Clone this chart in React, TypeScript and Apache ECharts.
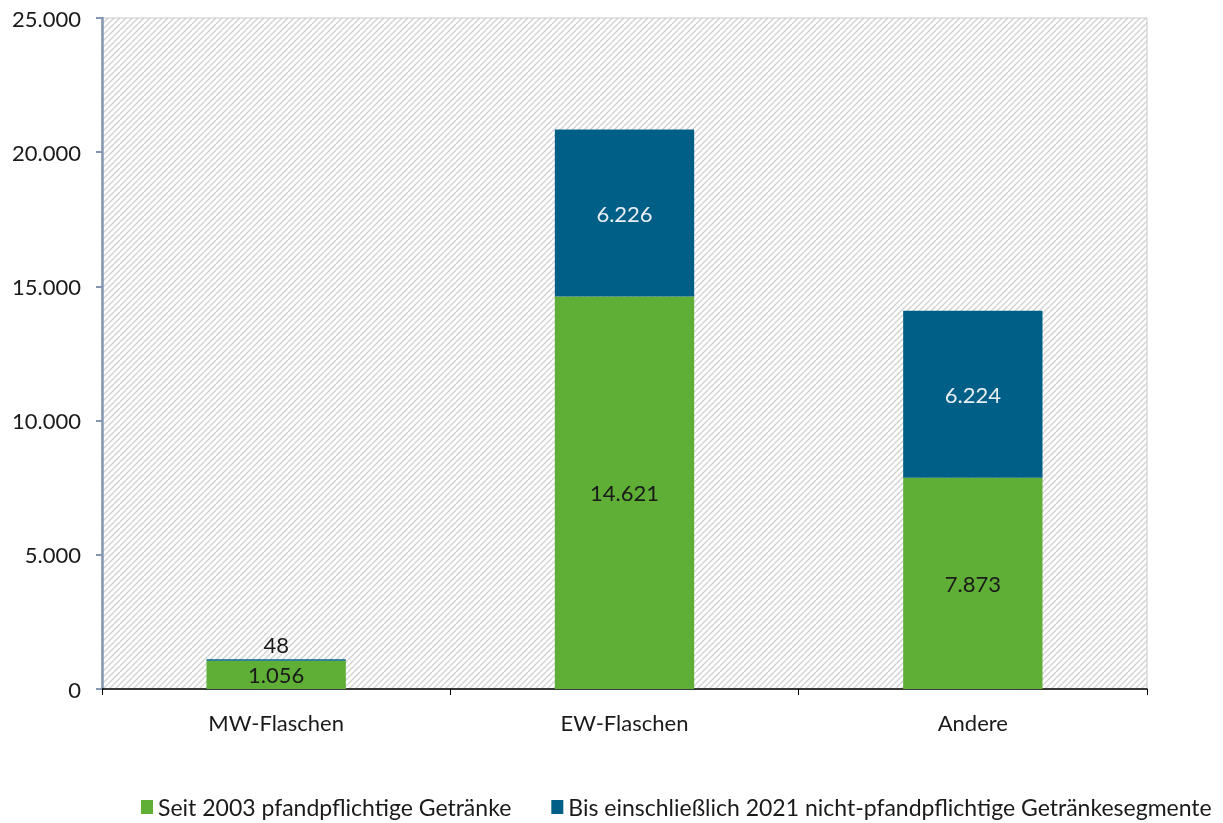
import React, { useEffect, useRef } from "react";
import * as echarts from "echarts";

const categories = ["MW-Flaschen", "EW-Flaschen", "Andere"];
const seitValues = [1056, 14621, 7873];
const bisValues = [48, 6226, 6224];
const seriesNames = [
  "Seit 2003 pfandpflichtige Getränke",
  "Bis einschließlich 2021 nicht-pfandpflichtige Getränkesegmente",
];

const fmt = (v: number) =>
  String(Math.round(v)).replace(/\B(?=(\d{3})+(?!\d))/g, ".");

function makeHatch(): string {
  const s = 6;
  const c = document.createElement("canvas");
  c.width = s;
  c.height = s;
  const ctx = c.getContext("2d")!;
  ctx.fillStyle = "#ffffff";
  ctx.fillRect(0, 0, s, s);
  ctx.strokeStyle = "#cfcfcf";
  ctx.lineWidth = 1.3;
  for (const o of [-s, 0, s]) {
    ctx.beginPath();
    ctx.moveTo(o, s);
    ctx.lineTo(o + s, 0);
    ctx.stroke();
  }
  return c.toDataURL();
}

export default function App() {
  const ref = useRef<HTMLDivElement>(null);
  useEffect(() => {
    const chart = echarts.init(ref.current!, null, { renderer: "svg" });
    const font = "Lato, 'Noto Sans', sans-serif";
    chart.setOption({
      animation: false,
      textStyle: { fontFamily: font },
      grid: {
        left: 102,
        right: 76,
        top: 18,
        bottom: 134,
        show: true,
        borderColor: "#c8c8c8",
        borderWidth: 1,
        backgroundColor: { image: makeHatch(), repeat: "repeat" },
      },
      legend: {
        top: 789,
        left: 136,
        padding: 5,
        itemWidth: 12,
        itemHeight: 14,
        itemGap: 40,
        icon: "rect",
        textStyle: { fontSize: 23, lineHeight: 26, color: "#1a1a1a", fontFamily: font },
        data: seriesNames,
      },
      xAxis: {
        type: "category",
        data: categories,
        axisLine: { lineStyle: { color: "#000", width: 1.5 } },
        axisTick: { show: true, alignWithLabel: false, length: 6, lineStyle: { color: "#000" } },
        axisLabel: { fontSize: 22, color: "#1a1a1a", margin: 22 },
      },
      yAxis: {
        type: "value",
        min: 0,
        max: 25000,
        interval: 5000,
        splitLine: { show: false },
        axisLine: { show: true, lineStyle: { color: "#8497b0", width: 2.5 } },
        axisTick: { show: true, length: 6, lineStyle: { color: "#8497b0", width: 2 } },
        axisLabel: {
          fontSize: 22,
          color: "#1a1a1a",
          margin: 21,
          formatter: (v: number) => fmt(v),
        },
      },
      series: [
        {
          name: seriesNames[0],
          type: "bar",
          stack: "a",
          barWidth: "40%",
          itemStyle: { color: "#5fae36" },
          label: {
            show: true,
            position: "inside",
            fontSize: 22,
            color: "#1a1a1a",
            formatter: (p: any) => fmt(p.value),
          },
          data: seitValues,
        },
        {
          name: seriesNames[1],
          type: "bar",
          stack: "a",
          barWidth: "40%",
          itemStyle: { color: "#005f87" },
          label: {
            show: true,
            position: "inside",
            fontSize: 22,
            color: "#e8eef3",
            formatter: (p: any) => fmt(p.value),
          },
          data: bisValues.map((v, i) =>
            i === 0
              ? { value: v, label: { position: "top", color: "#1a1a1a", distance: 4 } }
              : v
          ),
        },
      ],
    });
    return () => chart.dispose();
  }, []);
  return (
    <div
      ref={ref}
      style={{ position: "fixed", left: 0, top: 0, width: 1223, height: 823 }}
    />
  );
}
